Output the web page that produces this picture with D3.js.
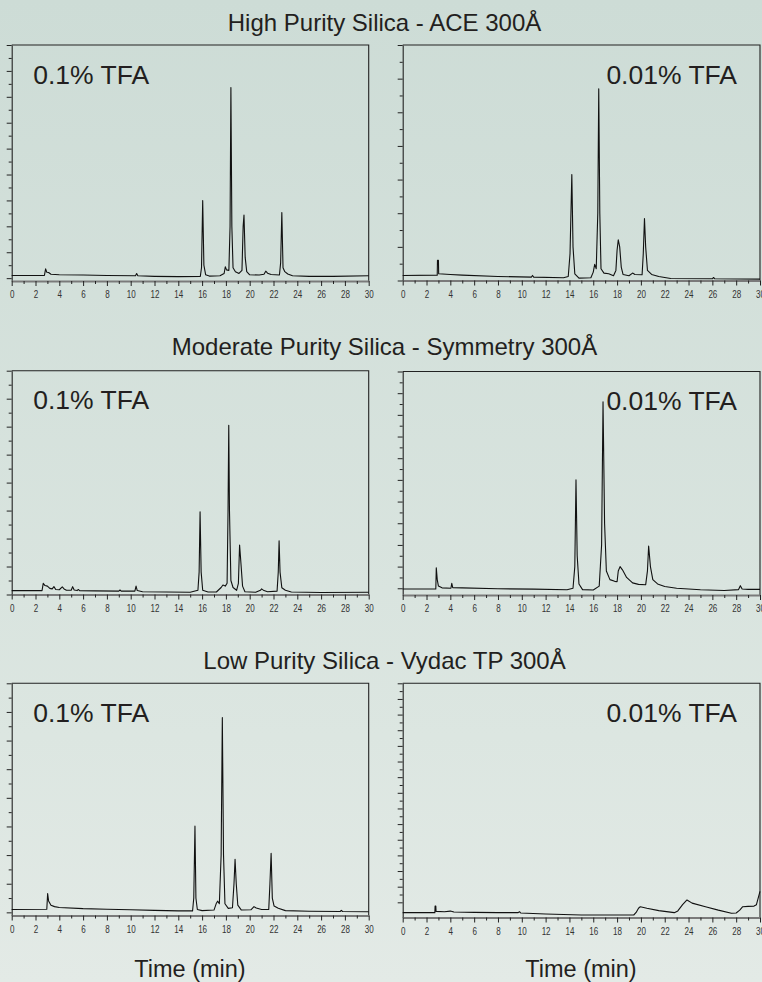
<!DOCTYPE html>
<html>
<head>
<meta charset="utf-8">
<script src="https://cdn.jsdelivr.net/npm/d3@7"></script>
<style>
  html, body { margin: 0; padding: 0; }
  body { width: 762px; height: 982px; overflow: hidden; }
  text { font-family: "Liberation Sans", Arial, Helvetica, sans-serif; fill: #231f20; }
  .xt text { font-size: 11.5px; fill: #333; }
</style>
</head>
<body>
<script>
// chromatogram data, [time (min), signal]
var aceTFA01 = [[0,1.05],[2.75,1.05],[2.85,3.6],[2.95,2.3],[3.1,2.2],[3.3,1.5],[4,1.3],[6,1.2],[8,1.0],[10.4,0.9],[10.5,1.8],[10.6,0.9],[12,0.7],[14,0.6],[15.85,0.7],[15.95,4],[16.05,30],[16.15,5],[16.3,1.3],[16.6,0.8],[17.5,0.9],[17.85,1.8],[17.95,4.4],[18.05,3.2],[18.25,3.0],[18.35,20],[18.42,73.6],[18.5,20],[18.6,4],[18.8,2.5],[19.1,1.8],[19.35,3],[19.45,20],[19.52,24.4],[19.62,8],[19.75,2.5],[20,1.3],[20.8,1.2],[21.2,1.5],[21.35,2.7],[21.5,1.9],[21.8,1.4],[22.5,1.2],[22.6,6],[22.7,25.3],[22.8,4],[22.95,2.5],[23.2,1.6],[23.6,0.9],[25,0.7],[27,0.7],[30,0.9]];
var aceTFA001 = [[0,1.5],[2.9,1.6],[2.92,6.0],[3.0,6.0],[3.02,2.0],[4,1.8],[5,1.6],[8,1.2],[10.8,1.0],[10.9,1.5],[11,1.0],[13.5,0.8],[13.9,1.2],[14.05,8],[14.2,31.5],[14.3,10],[14.45,2],[14.8,0.7],[15.8,0.8],[16.0,2.5],[16.12,4.8],[16.25,3.5],[16.38,20],[16.46,57],[16.55,20],[16.65,3.5],[16.9,2.2],[17.3,2.0],[17.7,1.4],[17.9,3],[18.0,9],[18.1,12.1],[18.22,10],[18.35,4],[18.5,1.8],[19.0,1.4],[19.3,2.2],[19.5,1.8],[20.1,1.7],[20.2,8],[20.3,18.4],[20.4,10],[20.55,3],[20.9,1.8],[21.5,1.2],[22.5,0.6],[26.0,0.5],[26.1,0.9],[26.2,0.5],[30,0.4]];
var symTFA01 = [[0,1.4],[2.55,1.4],[2.65,4.0],[2.8,3.2],[3.0,3.0],[3.2,2.2],[3.4,2.0],[3.55,2.8],[3.7,1.8],[4.0,1.7],[4.25,2.7],[4.4,2.0],[4.6,1.5],[5.0,1.5],[5.12,2.8],[5.25,1.6],[5.5,1.4],[5.6,1.8],[5.7,1.4],[7,1.3],[9,1.2],[9.1,1.6],[9.2,1.2],[10.35,1.2],[10.45,3.0],[10.55,1.4],[11,1.0],[13,0.9],[15,0.8],[15.65,1.5],[15.75,8],[15.83,29.6],[15.92,8],[16.05,1.5],[16.5,0.9],[17.2,0.9],[17.6,2.5],[17.75,3.4],[17.95,3.0],[18.1,4],[18.18,30],[18.24,60.5],[18.3,30],[18.42,5],[18.6,2.5],[18.9,1.5],[19.05,4],[19.15,17.7],[19.25,12],[19.4,3],[19.6,1.0],[20.5,0.8],[20.9,1.5],[21.0,2.0],[21.2,1.4],[21.5,1.0],[22.3,1.2],[22.4,8],[22.47,19.2],[22.55,8],[22.7,2.4],[23.0,1.5],[23.5,0.9],[26,0.7],[30,0.8]];
var symTFA001 = [[0,-0.3],[2.78,-0.3],[2.82,9.5],[2.9,4],[3.0,1],[3.3,0.2],[4.05,0],[4.12,2.3],[4.2,0.3],[5,0.2],[8,-0.2],[11,-0.4],[13.8,-0.7],[14.3,0],[14.45,10],[14.55,50],[14.65,15],[14.8,2],[15.1,-0.6],[16.0,-0.8],[16.5,1],[16.7,20],[16.82,86],[16.95,30],[17.1,8],[17.4,4],[17.8,3.2],[18.0,3.0],[18.1,8],[18.25,10],[18.45,8.5],[18.8,5],[19.3,2.5],[19.8,1.8],[20.4,1.6],[20.55,8],[20.65,19.5],[20.8,10],[21.0,4],[21.4,2],[22,0.8],[23,0],[25,-0.7],[27,-1.0],[28.2,-0.6],[28.35,1.2],[28.5,-0.3],[29,-0.5],[30,-0.5]];
var vydTFA01 = [[0,1.0],[2.95,1.1],[3.02,6.6],[3.1,4],[3.3,2.5],[3.6,2.0],[4,1.7],[6,1.3],[8,1.1],[10,0.9],[12,0.7],[14,0.5],[15.2,0.5],[15.3,5],[15.4,30.1],[15.48,5],[15.6,1.0],[16,0.6],[17.0,0.8],[17.2,3.2],[17.3,3.9],[17.45,3.0],[17.6,20],[17.7,68],[17.8,20],[17.92,3],[18.2,1.4],[18.55,1.6],[18.68,10],[18.77,18.5],[18.87,10],[19.0,2.5],[19.3,0.8],[20.1,0.9],[20.36,2.0],[20.55,1.5],[21.0,1.0],[21.6,1.0],[21.7,10],[21.8,20.6],[21.9,5],[22.05,2.2],[22.4,1.4],[23,0.6],[25,0.4],[27.6,0.3],[27.7,0.7],[27.8,0.3],[30,0.2]];
var vydTFA001 = [[0,-6.6],[2.7,-6.6],[2.72,-2.4],[2.78,-2.4],[2.8,-5.8],[3.5,-6.0],[4.0,-5.6],[4.3,-6.2],[6,-6.4],[8,-6.6],[9.7,-6.6],[9.8,-6.0],[9.9,-6.8],[12,-7.5],[15,-8.1],[19.4,-8.1],[19.6,-6.5],[19.8,-3.8],[19.95,-2.8],[20.5,-3.8],[21.5,-5.3],[22.8,-6.6],[23.1,-5.5],[23.5,-1.5],[23.87,1.5],[24.3,-0.5],[25.5,-3.0],[26.5,-5.0],[27.6,-7.0],[28.0,-6.8],[28.3,-5],[28.55,-2.8],[29.0,-2.6],[29.5,-2.4],[29.7,-1.5],[30,7]];

var columns = ["High Purity Silica - ACE 300Å", "Moderate Purity Silica - Symmetry 300Å", "Low Purity Silica - Vydac TP 300Å"];
var conditions = ["0.1% TFA", "0.01% TFA"];
var xLabels = [0,2,4,6,8,10,12,14,16,18,20,22,24,26,28,30];
var xMinor = [1,3,5,7,9,11,13,15,17,19,21,23,25,27,29];
var yDomains = [[-1.1,90],[0,70],[0,80],[-3.1,100],[-1.1,80],[-9.7,140]];
var traces = [aceTFA01, aceTFA001, symTFA01, symTFA001, vydTFA01, vydTFA001];

var width = 762, height = 982;

var svg = d3.select("body").append("svg")
  .attr("width", width)
  .attr("height", height);

var grad = svg.append("defs").append("linearGradient")
  .attr("id", "bg").attr("x1", 0).attr("y1", 0).attr("x2", 0).attr("y2", 1);
grad.append("stop").attr("offset", "0%").attr("stop-color", "#cddcd6");
grad.append("stop").attr("offset", "75%").attr("stop-color", "#dce6e1");
grad.append("stop").attr("offset", "100%").attr("stop-color", "#e3eae6");

svg.append("rect").attr("width", width).attr("height", height).attr("fill", "url(#bg)");

// panel boxes: left, right, top, bottom
var boxes = [
  [11.7, 368.7, 45, 281],
  [402.7, 760, 45, 280.5],
  [11.7, 368.7, 370.7, 594.5],
  [402.7, 760, 371.5, 595],
  [11.7, 368.7, 683.3, 915.5],
  [402.7, 760, 683.3, 917.5]
];
var titleY = [31, 355, 669];

columns.forEach(function(t, i){
  svg.append("text")
    .attr("x", 384.5).attr("y", titleY[i])
    .attr("text-anchor", "middle")
    .attr("font-size", 24)
    .text(t);
});

boxes.forEach(function(b, i){
  var g = svg.append("g");
  var x = d3.scaleLinear().domain([0,30]).range([b[0], b[1]]);
  var y = d3.scaleLinear().domain(yDomains[i]).range([b[3], b[2]]);

  var dom = yDomains[i];
  var majors = d3.range(Math.ceil(dom[0]/10)*10, dom[1]+0.01, 10);
  var minors = d3.range(Math.ceil(dom[0]/10)*10 + 5, dom[1]+0.01, 10);

  // top and right border
  g.append("path")
    .attr("d", `M${b[0]},${b[2]}H${b[1]}V${b[3]}`)
    .attr("fill", "none").attr("stroke", "#222").attr("stroke-width", 1.1);

  g.append("g").attr("transform", `translate(${b[0]},0)`)
    .call(d3.axisLeft(y).tickValues(majors).tickSize(5).tickSizeOuter(0).tickFormat(""))
    .call(a => a.select(".domain").attr("stroke", "#222").attr("stroke-width", 1.1))
    .call(a => a.selectAll("line").attr("stroke", "#222"));
  g.append("g").attr("transform", `translate(${b[0]},0)`)
    .call(d3.axisLeft(y).tickValues(minors).tickSize(3).tickFormat(""))
    .call(a => a.select(".domain").remove())
    .call(a => a.selectAll("line").attr("stroke", "#222"));

  var xa = g.append("g").attr("class", "xt").attr("transform", `translate(0,${b[3]})`)
    .call(d3.axisBottom(x).tickValues(xLabels).tickSize(5).tickSizeOuter(0).tickPadding(4).tickFormat(d3.format("d")));
  xa.select(".domain").attr("stroke", "#7a7a7a").attr("stroke-width", 2.2);
  xa.selectAll("line").attr("stroke", "#222");
  // condensed look for tick numbers
  xa.selectAll("text").attr("transform", "scale(0.7,1)");
  g.append("g").attr("transform", `translate(0,${b[3]})`)
    .call(d3.axisBottom(x).tickValues(xMinor).tickSize(3).tickFormat(""))
    .call(a => a.select(".domain").remove())
    .call(a => a.selectAll("line").attr("stroke", "#222"));

  var line = d3.line().x(d => x(d[0])).y(d => y(d[1]));
  g.append("path")
    .datum(traces[i])
    .attr("d", line)
    .attr("fill", "none")
    .attr("stroke", "#111")
    .attr("stroke-width", 1.1)
    .attr("stroke-linejoin", "round");

  var left = i % 2 == 0;
  g.append("text")
    .attr("x", left ? b[0] + 21.5 : b[1] - 23)
    .attr("y", b[2] + 38.5)
    .attr("text-anchor", left ? "start" : "end")
    .attr("font-size", 26.5)
    .text(conditions[i % 2]);
});

["Time (min)", "Time (min)"].forEach(function(t, i){
  svg.append("text")
    .attr("x", i == 0 ? 190 : 581)
    .attr("y", 977)
    .attr("text-anchor", "middle")
    .attr("font-size", 23.5)
    .text(t);
});
</script>
</body>
</html>
